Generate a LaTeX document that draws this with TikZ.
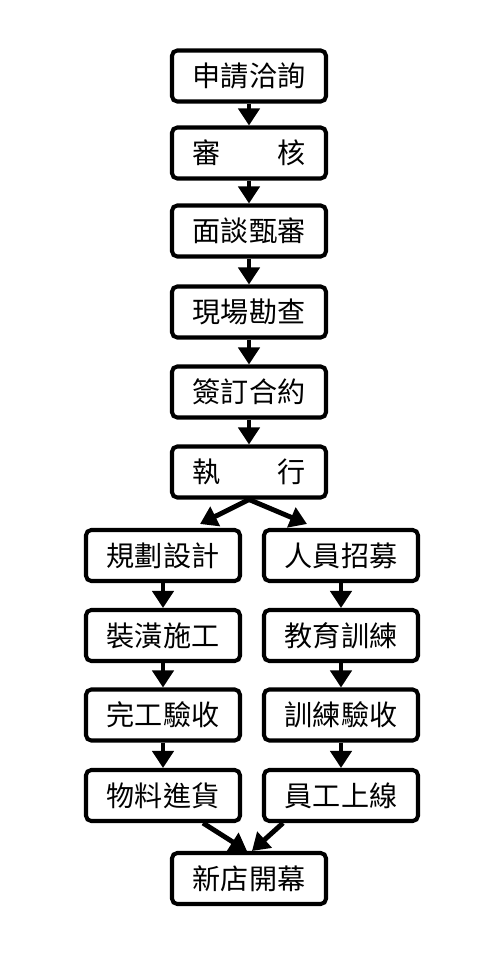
\documentclass[tikz,border=0pt]{standalone}
\usepackage{fontspec}
\newfontfamily\cjk{Noto Sans CJK TC}
\usetikzlibrary{arrows.meta}
\begin{document}
\begin{tikzpicture}[
    stepbox/.style={draw,line width=2.3pt,rounded corners=3pt,inner sep=0pt,
      minimum width=3.08cm,minimum height=1.02cm,font=\cjk\fontsize{16pt}{18pt}\selectfont},
    arr/.style={line width=2.8pt,-{Triangle[width=0.42cm,length=0.34cm]}}]
    \useasboundingbox (0,0) rectangle (10,-19.2);
    % main column
    \node[stepbox] (apply)  at (4.98,-1.52) {申請洽詢};
    \node[stepbox] (review) at (4.98,-3.06) {審\hspace{2em}核};
    \node[stepbox] (talk)   at (4.98,-4.62) {面談甄審};
    \node[stepbox] (survey) at (4.98,-6.24) {現場勘查};
    \node[stepbox] (sign)   at (4.98,-7.84) {簽訂合約};
    \node[stepbox] (exec)   at (4.98,-9.44) {執\hspace{2em}行};
    % store side
    \node[stepbox] (plan)   at (3.26,-11.11) {規劃設計};
    \node[stepbox] (build)  at (3.26,-12.71) {裝潢施工};
    \node[stepbox] (check)  at (3.26,-14.30) {完工驗收};
    \node[stepbox] (stock)  at (3.26,-15.91) {物料進貨};
    % staff side
    \node[stepbox] (hire)   at (6.82,-11.11) {人員招募};
    \node[stepbox] (train)  at (6.82,-12.71) {教育訓練};
    \node[stepbox] (exam)   at (6.82,-14.30) {訓練驗收};
    \node[stepbox] (staff)  at (6.82,-15.91) {員工上線};
    \node[stepbox] (open)   at (4.98,-17.57) {新店開幕};
    % arrows
    \draw[arr] (apply) -- (review);
    \draw[arr] (review) -- (talk);
    \draw[arr] (talk) -- (survey);
    \draw[arr] (survey) -- (sign);
    \draw[arr] (sign) -- (exec);
    \draw[arr] (exec.south) -- ([xshift=0.74cm,yshift=0.08cm]plan.north);
    \draw[arr] (exec.south) -- ([xshift=-0.68cm,yshift=0.08cm]hire.north);
    \draw[arr] (plan) -- (build);
    \draw[arr] (build) -- (check);
    \draw[arr] (check) -- (stock);
    \draw[arr] (hire) -- (train);
    \draw[arr] (train) -- (exam);
    \draw[arr] (exam) -- (staff);
    \draw[arr] ([xshift=0.8cm]stock.south) -- ([xshift=-0.04cm]open.north);
    \draw[arr] ([xshift=-1.16cm]staff.south) -- ([xshift=0.06cm]open.north);
\end{tikzpicture}
\end{document}
